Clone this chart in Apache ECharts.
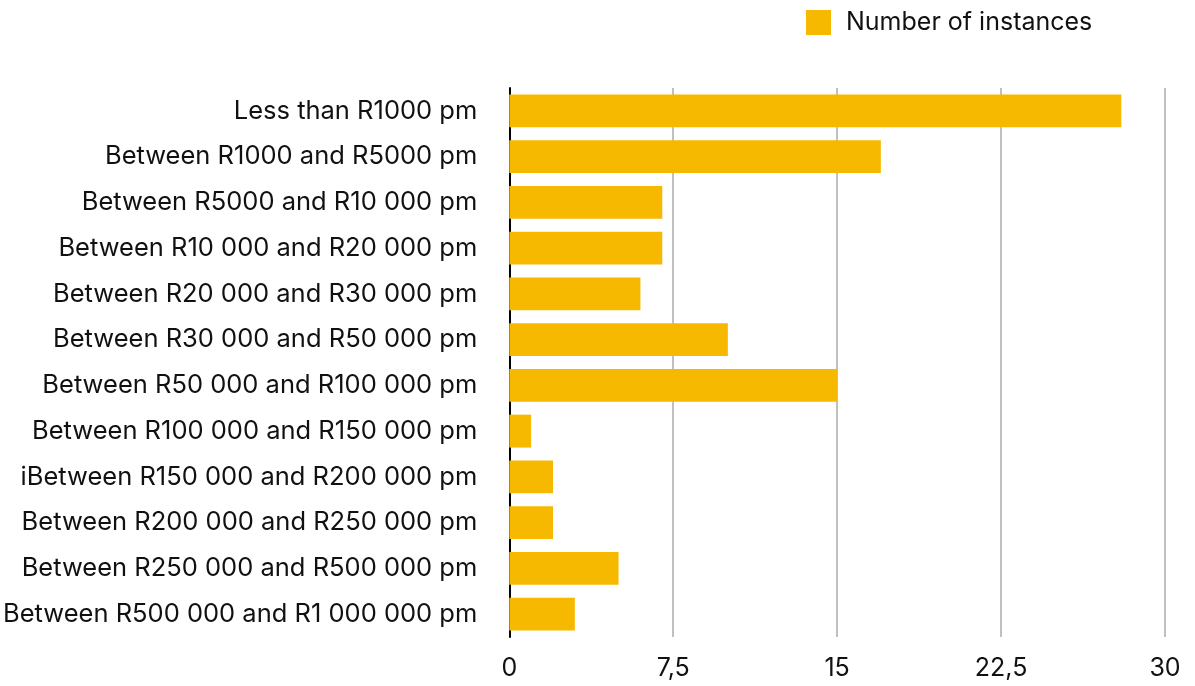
<!DOCTYPE html>
<html>
<head>
<meta charset="utf-8">
<script src="https://cdn.jsdelivr.net/npm/echarts@6/dist/echarts.min.js"></script>
<style>
  html, body { margin: 0; padding: 0; background: #ffffff; }
  #chart { width: 1195px; height: 686px; }
</style>
</head>
<body>
<div id="chart"></div>
<script>
// Monthly income brackets, top to bottom
const categories = [
  'Less than R1000 pm',
  'Between R1000 and R5000 pm',
  'Between R5000 and R10 000 pm',
  'Between R10 000 and R20 000 pm',
  'Between R20 000 and R30 000 pm',
  'Between R30 000 and R50 000 pm',
  'Between R50 000 and R100 000 pm',
  'Between R100 000 and R150 000 pm',
  'iBetween R150 000 and R200 000 pm',
  'Between R200 000 and R250 000 pm',
  'Between R250 000 and R500 000 pm',
  'Between R500 000 and R1 000 000 pm'
];

const instances = [28, 17, 7, 7, 6, 10, 15, 1, 2, 2, 5, 3];

const seriesName = 'Number of instances';

// Value axis ticks and their printed labels (decimal comma)
const xTicks = [0, 7.5, 15, 22.5, 30];
const xTickLabels = ['0', '7,5', '15', '22,5', '30'];

const FONT = 'Inter, "Liberation Sans", Arial, sans-serif';
const FONT_SIZE = 25;
const BAR_COLOR = '#F6B900';

const chart = echarts.init(document.getElementById('chart'), null, { renderer: 'canvas' });

chart.setOption({
  animation: false,
  backgroundColor: '#ffffff',
  textStyle: { fontFamily: FONT },
  legend: {
    left: 806,
    top: 10,
    padding: 0,
    itemWidth: 25,
    itemHeight: 25,
    icon: 'rect',
    textStyle: {
      fontFamily: FONT,
      fontSize: FONT_SIZE,
      color: '#111111',
      padding: [3, 0, 0, 10]
    },
    data: [seriesName]
  },
  grid: {
    left: 509,
    right: 30,
    top: 88,
    bottom: 49,
    containLabel: false
  },
  xAxis: {
    type: 'value',
    min: xTicks[0],
    max: xTicks[xTicks.length - 1],
    interval: xTicks[1] - xTicks[0],
    axisLine: { show: false },
    axisTick: { show: false },
    splitLine: { show: true, lineStyle: { color: '#c0c0c0', width: 2 } },
    axisLabel: {
      margin: 19,
      fontFamily: FONT,
      fontSize: FONT_SIZE,
      color: '#111111',
      formatter: function (v) {
        const i = xTicks.indexOf(v);
        return i >= 0 ? xTickLabels[i] : '';
      }
    }
  },
  yAxis: {
    type: 'category',
    inverse: true,
    data: categories,
    axisLine: { show: true, lineStyle: { color: '#000000', width: 2 } },
    axisTick: { show: false },
    splitLine: { show: false },
    axisLabel: {
      margin: 32,
      fontFamily: FONT,
      fontSize: 25.5,
      color: '#111111',
      padding: [4, 0, 0, 0]
    }
  },
  series: [{
    name: seriesName,
    type: 'bar',
    data: instances,
    barCategoryGap: '28%',
    itemStyle: { color: BAR_COLOR },
    z: 1
  }]
});
</script>
</body>
</html>
